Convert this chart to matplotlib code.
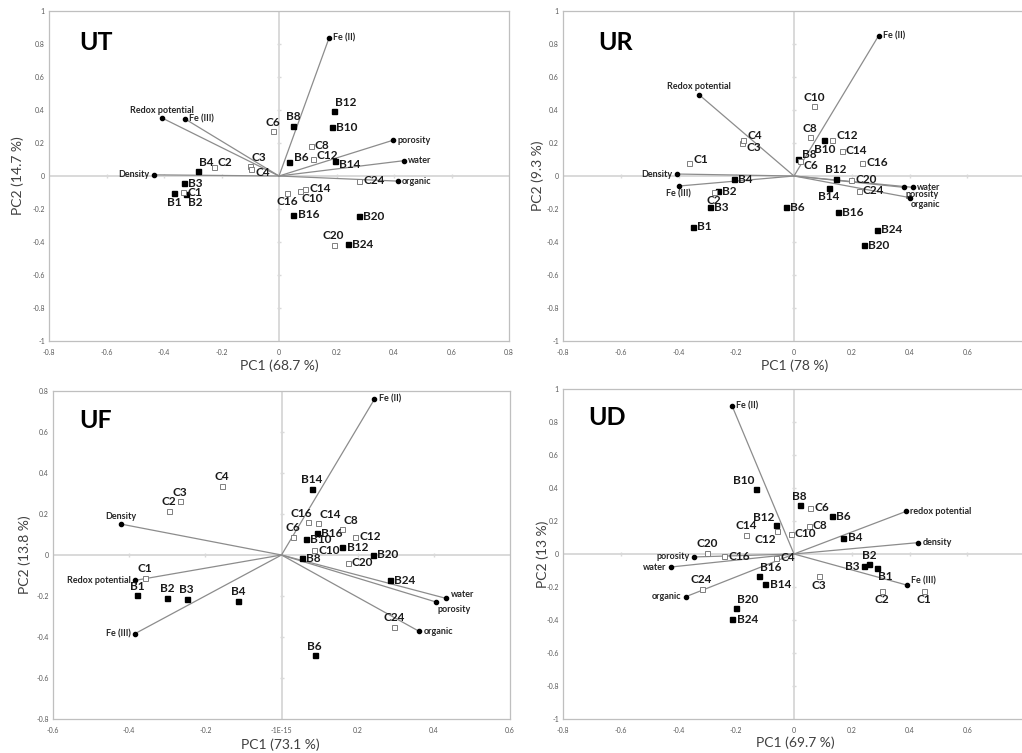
import matplotlib
matplotlib.use("Agg")
import matplotlib.pyplot as plt
import numpy as np

# ---------------- data ----------------
samples = ['B1', 'B2', 'B3', 'B4', 'B6', 'B8', 'B10', 'B12', 'B14', 'B16', 'B20', 'B24',
           'C1', 'C2', 'C3', 'C4', 'C6', 'C8', 'C10', 'C12', 'C14', 'C16', 'C20', 'C24']

# UT
ut_pc1 = [-0.364, -0.323, -0.330, -0.283, 0.036, 0.050, 0.183, 0.191, 0.194, 0.050, 0.278, 0.241,
          -0.334, -0.227, -0.100, -0.097, -0.022, 0.110, 0.074, 0.117, 0.090, 0.029, 0.190, 0.278]
ut_pc2 = [-0.105, -0.111, -0.044, 0.032, 0.085, 0.305, 0.295, 0.394, 0.093, -0.234, -0.244, -0.414,
          -0.097, 0.056, 0.059, 0.045, 0.271, 0.184, -0.089, 0.102, -0.077, -0.103, -0.418, -0.030]
ut_vars = ['Fe (II)', 'Fe (III)', 'Redox potential', 'Density', 'porosity', 'water', 'organic']
ut_var_pc1 = [0.174, -0.327, -0.406, -0.435, 0.397, 0.435, 0.413]
ut_var_pc2 = [0.836, 0.346, 0.351, 0.007, 0.217, 0.093, -0.031]

# UR
ur_pc1 = [-0.351, -0.264, -0.292, -0.209, -0.027, 0.015, 0.105, 0.145, 0.121, 0.153, 0.242, 0.287,
          -0.363, -0.276, -0.180, -0.175, 0.020, 0.056, 0.070, 0.132, 0.165, 0.235, 0.197, 0.224]
ur_pc2 = [-0.307, -0.093, -0.188, -0.020, -0.188, 0.104, 0.218, -0.016, -0.070, -0.219, -0.420, -0.325,
          0.077, -0.097, 0.198, 0.218, 0.088, 0.236, 0.422, 0.221, 0.154, 0.079, -0.023, -0.088]
ur_vars = ['Fe (II)', 'Fe (III)', 'Redox potential', 'Density', 'porosity', 'water', 'organic']
ur_var_pc1 = [0.293, -0.400, -0.329, -0.406, 0.382, 0.413, 0.401]
ur_var_pc2 = [0.850, -0.061, 0.493, 0.012, -0.069, -0.069, -0.131]

# UF
uf_pc1 = [-0.379, -0.300, -0.249, -0.114, 0.087, 0.053, 0.064, 0.160, 0.080, 0.093, 0.240, 0.285,
          -0.358, -0.296, -0.266, -0.156, 0.029, 0.160, 0.085, 0.194, 0.096, 0.070, 0.174, 0.295]
uf_pc2 = [-0.195, -0.208, -0.213, -0.224, -0.490, -0.017, 0.076, 0.037, 0.323, 0.106, 0.000, -0.124,
          -0.110, 0.216, 0.263, 0.337, 0.090, 0.128, 0.022, 0.088, 0.157, 0.160, -0.038, -0.349]
uf_vars = ['Fe (II)', 'Fe (III)', 'Redox potential', 'Density', 'porosity', 'water', 'organic']
uf_var_pc1 = [0.244, -0.385, -0.385, -0.422, 0.407, 0.433, 0.362]
uf_var_pc2 = [0.760, -0.384, -0.124, 0.151, -0.230, -0.212, -0.373]

# UD
ud_pc1 = [0.286, 0.261, 0.241, 0.171, 0.130, 0.020, -0.131, -0.062, -0.099, -0.122, -0.202, -0.213,
          0.450, 0.305, 0.085, -0.062, 0.056, 0.051, -0.012, -0.059, -0.167, -0.243, -0.302, -0.320]
ud_pc2 = [-0.085, -0.061, -0.073, 0.098, 0.230, 0.297, 0.396, 0.174, -0.184, -0.135, -0.326, -0.396,
          -0.224, -0.224, -0.135, -0.024, 0.281, 0.171, 0.122, 0.139, 0.117, -0.013, 0.008, -0.210]
ud_vars = ['Fe (II)', 'Fe (III)', 'redox potential', 'density', 'porosity', 'water', 'organic']
ud_var_pc1 = [-0.215, 0.390, 0.389, 0.430, -0.348, -0.427, -0.375]
ud_var_pc2 = [0.900, -0.188, 0.259, 0.069, -0.018, -0.079, -0.259]

titles = ['UT', 'UR', 'UF', 'UD']
pc1_labels = ['PC1 (68.7 %)', 'PC1 (78 %)', 'PC1 (73.1 %)', 'PC1 (69.7 %)']
pc2_labels = ['PC2 (14.7 %)', 'PC2 (9.3 %)', 'PC2 (13.8 %)', 'PC2 (13 %)']

# ---------------- style / layout ----------------
W, H = 1022, 753
label_pos = {
    'r': (3, 0, 'left', 'center'), 'ru': (3, 3, 'left', 'center'), 'rd': (3, -3, 'left', 'center'),
    'l': (-3, 0, 'right', 'center'), 'a': (0, 2.5, 'center', 'bottom'), 'b': (0, -2.5, 'center', 'top'),
    'ar': (1, 2, 'left', 'bottom'), 'al': (-1, 2, 'right', 'bottom'),
    'al2': (3, 2.5, 'right', 'bottom'),
    'br': (1, -2, 'left', 'top'), 'bl': (-1, -2, 'right', 'top'),
}
ut_lab = dict(B1='b', B2='br', B3='r', B4='ar', B6='ru', B8='a', B10='r', B12='ar', B14='rd',
              B16='r', B20='r', B24='r', C1='r', C2='ru', C3='ar', C4='rd', C6='a', C8='r',
              C10='br', C12='ru', C14='r', C16='b', C20='a', C24='r')
ut_vlab = ['r', 'r', 'a', 'l', 'r', 'r', 'r']
ur_lab = dict(B1='r', B2='r', B3='r', B4='r', B6='r', B8='ru', B10='b', B12='a', B14='b',
              B16='r', B20='r', B24='r', C1='ru', C2='b', C3='rd', C4='ru', C6='rd', C8='a',
              C10='a', C12='ru', C14='r', C16='r', C20='r', C24='r')
ur_vlab = ['r', 'b', 'a', 'l', 'br', 'r', 'br']
uf_lab = dict(B1='a', B2='a', B3='a', B4='a', B6='a', B8='r', B10='r', B12='r', B14='a',
              B16='r', B20='r', B24='r', C1='a', C2='a', C3='a', C4='a', C6='a', C8='ar',
              C10='r', C12='r', C14='ar', C16='al2', C20='r', C24='a')
uf_vlab = ['r', 'l', 'l', 'a', 'br', 'ru', 'r']
ud_lab = dict(B1='br', B2='a', B3='l', B4='r', B6='r', B8='a', B10='al', B12='al', B14='r',
              B16='ar', B20='ar', B24='r', C1='b', C2='b', C3='b', C4='r', C6='r', C8='r',
              C10='r', C12='bl', C14='a', C16='r', C20='a', C24='a')
ud_vlab = ['r', 'ru', 'r', 'r', 'l', 'l', 'l']

# axes pixel boxes: left, right, top, bottom
boxes = [(49, 509, 11, 341), (563, 1025, 11, 341), (53, 510, 391, 719), (563, 1025, 389, 719)]
xlims = [(-0.8, 0.8), (-0.8, 0.8), (-0.6, 0.6), (-0.8, 0.8)]
ylims = [(-1, 1), (-1, 1), (-0.8, 0.8), (-1, 1)]
xlab_pos = [(0.5, -0.076), (0.502, -0.076), (0.497, -0.079), (0.502, -0.073)]
ylab_pos = [(-0.067, 0.5), (-0.054, 0.5), (-0.061, 0.5), (-0.043, 0.5)]
title_pos = [(0.065, 0.882), (0.076, 0.882), (0.057, 0.887), (0.054, 0.89)]
hide_last_xtick = [False, True, False, True]

panels = [
    (ut_pc1, ut_pc2, ut_vars, ut_var_pc1, ut_var_pc2, ut_lab, ut_vlab),
    (ur_pc1, ur_pc2, ur_vars, ur_var_pc1, ur_var_pc2, ur_lab, ur_vlab),
    (uf_pc1, uf_pc2, uf_vars, uf_var_pc1, uf_var_pc2, uf_lab, uf_vlab),
    (ud_pc1, ud_pc2, ud_vars, ud_var_pc1, ud_var_pc2, ud_lab, ud_vlab),
]

plt.rcParams['font.family'] = ['Lato', 'DejaVu Sans']
fig = plt.figure(figsize=(W / 100, H / 100), dpi=100)
fig.patch.set_facecolor('white')

GRAY_LINE = '#8c8c8c'
ZERO = '#d9d9d9'
FRAME = '#bfbfbf'
TICK = '#595959'


def fmt(v):
    if abs(v) < 1e-9:
        return '0'
    s = ('%.1f' % v)
    if s.endswith('.0'):
        s = s[:-2]
    return s


for i, (pc1, pc2, vnames, vx, vy, lab, vlab) in enumerate(panels):
    l, r, t, b = boxes[i]
    ax = fig.add_axes([l / W, (H - b) / H, (r - l) / W, (b - t) / H])
    ax.set_xlim(*xlims[i])
    ax.set_ylim(*ylims[i])
    for s in ax.spines.values():
        s.set_color(FRAME)
        s.set_linewidth(0.9)

    xt = np.round(np.arange(xlims[i][0], xlims[i][1] + 1e-9, 0.2), 2)
    yt = np.round(np.arange(ylims[i][0], ylims[i][1] + 1e-9, 0.2), 2)
    ax.set_xticks(xt)
    ax.set_yticks(yt)
    xl = [fmt(v) for v in xt]
    if i == 2:
        xl = ['-1E-15' if v == '0' else v for v in xl]
    if hide_last_xtick[i]:
        xl[-1] = ''
    ax.set_xticklabels(xl)
    ax.set_yticklabels([fmt(v) for v in yt])
    ax.tick_params(length=0, labelsize=5, labelcolor=TICK)
    ax.tick_params(axis='x', pad=6)
    ax.tick_params(axis='y', pad=3)

    # zero axes lines with small tick marks
    ax.axhline(0, color=ZERO, lw=1.4, zorder=0)
    ax.axvline(0, color=ZERO, lw=1.4, zorder=0)
    inner_x = [v for v in xt if abs(v) > 1e-9 and v not in xlims[i]]
    inner_y = [v for v in yt if abs(v) > 1e-9 and v not in ylims[i]]
    ax.plot(inner_x, [0] * len(inner_x), ls='none', marker='|', ms=3, color=ZERO, mew=1, zorder=0)
    ax.plot([0] * len(inner_y), inner_y, ls='none', marker='_', ms=3, color=ZERO, mew=1, zorder=0)

    # loading lines
    for x, y in zip(vx, vy):
        ax.plot([0, x], [0, y], color=GRAY_LINE, lw=0.9, zorder=1)
    ax.plot(vx, vy, ls='none', marker='o', ms=3, color='black', zorder=3)

    # samples
    px = np.array(pc1)
    py = np.array(pc2)
    isB = np.array([s.startswith('B') for s in samples])
    ax.plot(px[isB], py[isB], ls='none', marker='s', ms=3.6, color='black', zorder=3)
    ax.plot(px[~isB], py[~isB], ls='none', marker='s', ms=3.6, mfc='white',
            mec='#7f7f7f', mew=0.7, zorder=3)

    for s, x, y in zip(samples, pc1, pc2):
        dx, dy, ha, va = label_pos[lab[s]]
        ax.annotate(s, (x, y), xytext=(dx, dy), textcoords='offset points', ha=ha, va=va,
                    fontsize=8.5, fontweight='bold', color='#1a1a1a', zorder=4)
    for s, x, y, code in zip(vnames, vx, vy, vlab):
        dx, dy, ha, va = label_pos[code]
        ax.annotate(s, (x, y), xytext=(dx, dy), textcoords='offset points', ha=ha, va=va,
                    fontsize=6.5, fontweight='bold', color='#262626', zorder=4)

    ax.text(*title_pos[i], titles[i], transform=ax.transAxes, fontsize=18,
            fontweight='bold', ha='left', va='baseline', color='black')
    ax.set_xlabel(pc1_labels[i], fontsize=10, color='#404040')
    ax.set_ylabel(pc2_labels[i], fontsize=10, color='#404040')
    ax.xaxis.set_label_coords(*xlab_pos[i])
    ax.yaxis.set_label_coords(*ylab_pos[i])
    ax.xaxis.label.set_va('center')
    ax.yaxis.label.set_va('center')

fig.savefig('out.png', dpi=100)
